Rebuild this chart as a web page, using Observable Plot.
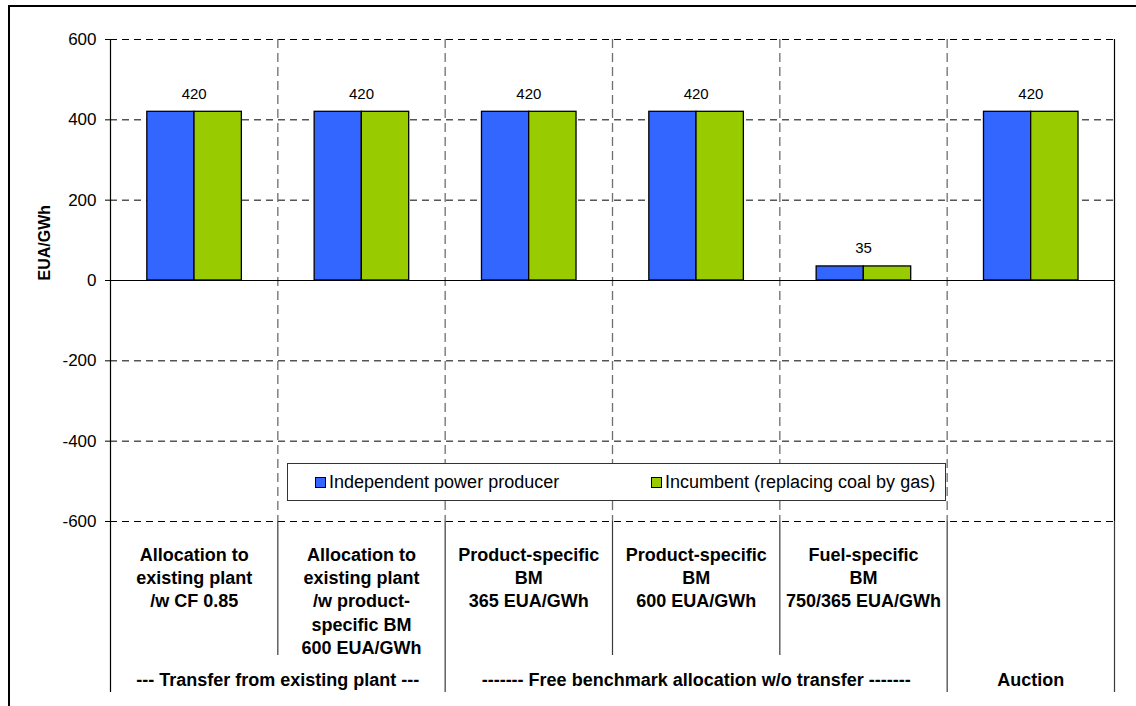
<!DOCTYPE html>
<html>
<head>
<meta charset="utf-8">
<script src="https://cdn.jsdelivr.net/npm/d3@7"></script>
<script src="https://cdn.jsdelivr.net/npm/@observablehq/plot@0.6"></script>
<style>
  html, body { margin: 0; padding: 0; background: #fff; }
  body { font-family: "Liberation Sans", Arial, sans-serif; }
  #wrap { position: relative; width: 1136px; height: 706px; overflow: hidden; }
  #frame { position: absolute; left: 8px; top: 5px; width: 2000px; height: 2000px;
           border-top: 2px solid #000; border-left: 2px solid #000; pointer-events: none; }
  #legend { position: absolute; left: 287px; top: 463px; width: 657px; height: 36px;
            background: #fff; border: 1px solid #333; }
  .item { position: absolute; top: 0; height: 36px; display: flex; align-items: center;
          font-size: 18px; color: #000; white-space: nowrap; }
  .sw { width: 11px; height: 11px; border: 1px solid #000; margin-right: 3px; box-sizing: border-box; }
</style>
</head>
<body>
<div id="wrap">
  <div id="chart"></div>
  <div id="legend"></div>
  <div id="frame"></div>
</div>
<script>
// ---- data ----
const categories = [
  "Allocation to\nexisting plant\n/w CF 0.85",
  "Allocation to\nexisting plant\n/w product-\nspecific BM\n600 EUA/GWh",
  "Product-specific\nBM\n365 EUA/GWh",
  "Product-specific\nBM\n600 EUA/GWh",
  "Fuel-specific\nBM\n750/365 EUA/GWh",
  ""
];
const seriesNames = ["Independent power producer", "Incumbent (replacing coal by gas)"];
const independentValues = [420, 420, 420, 420, 35, 420];
const incumbentValues = [420, 420, 420, 420, 35, 420];
const groupLabels = ["--- Transfer from existing plant ---", "------- Free benchmark allocation w/o transfer -------", "Auction"];
const groupStart = [0, 2, 5];
const groupEnd = [2, 5, 6];
const yTicks = [-600, -400, -200, 0, 200, 400, 600];
const colors = ["#3366FF", "#99CC00"];

// ---- build table ----
const bars = [];
categories.forEach((c, i) => {
  bars.push({i, series: seriesNames[0], value: independentValues[i], part: 0});
  bars.push({i, series: seriesNames[1], value: incumbentValues[i], part: 1});
});
const labels = categories.map((c, i) => ({i, value: Math.max(independentValues[i], incumbentValues[i])}));
const groups = groupLabels.map((g, k) => ({label: g, start: groupStart[k], end: groupEnd[k]}));
const boundaries = d3.range(0, categories.length + 1);
const groupBounds = new Set([...groupStart, ...groupEnd]);

// ---- layout ----
const W = 1136, H = 706, mt = 39, mb = 185, ml = 110, mr = 22;
const pxPerUnit = (H - mt - mb) / 1200;
const yPx = px => 600 - (px - mt) / pxPerUnit;

const barLeft = 0.22, barMid = 0.502, barRight = 0.785;

const chart = Plot.plot({
  width: W, height: H,
  marginTop: mt, marginBottom: mb, marginLeft: ml, marginRight: mr,
  style: {fontFamily: "'Liberation Sans', Arial, sans-serif", fontSize: "17px", background: "transparent", overflow: "visible"},
  x: {domain: [0, categories.length], axis: null},
  y: {domain: [-600, 600], axis: null},
  color: {domain: seriesNames, range: colors},
  marks: [
    // horizontal dashed gridlines
    Plot.ruleY(yTicks.filter(t => t !== 0), {stroke: "#000", strokeDasharray: "7,5", strokeWidth: 1}),
    // vertical dashed gridlines
    Plot.ruleX(boundaries.filter(b => b > 0 && b < categories.length), {stroke: "#6e6e6e", strokeDasharray: "9,5", strokeWidth: 1.3}),
    // separators below the plot
    Plot.ruleX(boundaries.filter(b => b > 0), {
      x: d => d, y1: -600,
      y2: d => groupBounds.has(d) ? yPx(692) : yPx(655),
      stroke: "#3a3a3a", strokeWidth: 1.2
    }),
    // left axis line
    Plot.ruleX([0], {y1: yPx(692), y2: 600, stroke: "#000", strokeWidth: 1.2}),
    // right edge
    Plot.ruleX([categories.length], {y1: -600, y2: 600, stroke: "#000", strokeWidth: 1.2}),
    // bars
    Plot.rectY(bars, {
      x1: d => d.i + (d.part === 0 ? barLeft : barMid),
      x2: d => d.i + (d.part === 0 ? barMid : barRight),
      y1: 0, y2: "value",
      fill: "series", stroke: "#000", strokeWidth: 1.3
    }),
    // zero line
    Plot.ruleY([0], {stroke: "#000", strokeWidth: 1.2}),
    // value labels
    Plot.text(labels, {x: d => d.i + 0.5, y: "value", text: d => String(d.value), dy: -18, fontSize: 15, fill: "#000"}),
    // y axis
    Plot.axisY(yTicks, {tickSize: 5, tickPadding: 9, fontSize: 17, label: null, stroke: "#000", tickFormat: d => String(d)}),
    Plot.text(["EUA/GWh"], {frameAnchor: "left", dx: -66, rotate: -90, fontWeight: "bold", fontSize: 16, fill: "#000"}),
    // category labels
    Plot.text(categories.map((c, i) => ({c, i})), {
      x: d => d.i + 0.5, y: -600, text: "c", lineAnchor: "top", dy: 23,
      fontWeight: "bold", fontSize: 18, lineHeight: 1.29, fill: "#000"
    }),
    // group labels
    Plot.text(groups, {
      x: d => (d.start + d.end) / 2, y: -600, text: "label", dy: 159,
      fontWeight: "bold", fontSize: 18, fill: "#000"
    })
  ]
});
document.getElementById("chart").appendChild(chart);

// legend
const legend = document.getElementById("legend");
const offsets = [27, 363];
seriesNames.forEach((s, k) => {
  const it = document.createElement("div");
  it.className = "item";
  it.style.left = offsets[k] + "px";
  const sw = document.createElement("span");
  sw.className = "sw";
  sw.style.background = colors[k];
  const tx = document.createElement("span");
  tx.textContent = s;
  it.appendChild(sw); it.appendChild(tx);
  legend.appendChild(it);
});
</script>
</body>
</html>
